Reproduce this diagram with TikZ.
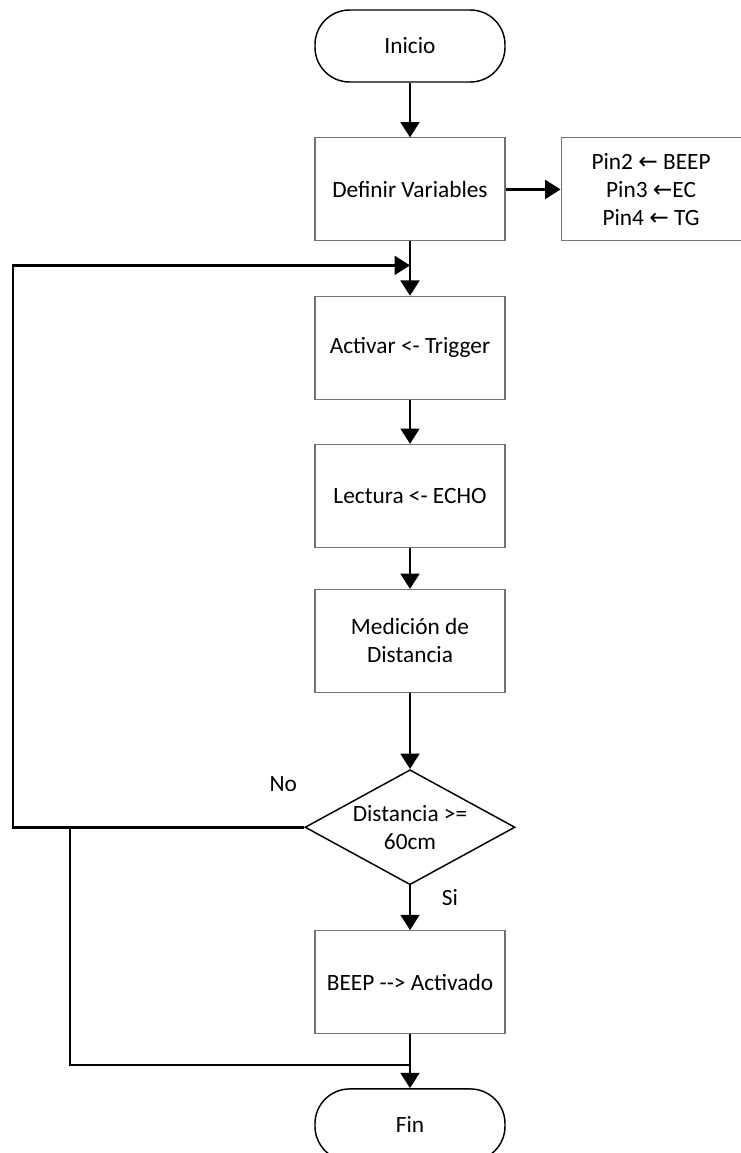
\documentclass[tikz,border=0pt]{standalone}
\usepackage{fontspec}
\setmainfont{Carlito}
\newfontfamily\arrowfont{DejaVu Sans}
\usetikzlibrary{arrows.meta,positioning,calc,shapes.geometric}
\tikzset{
	box/.style={draw=black!55, line width=0.8pt, align=center, minimum height=77.25pt, minimum width=142.5pt, font=\fontsize{17.5}{21}\selectfont},
	term/.style={draw, line width=1.1pt, rounded corners=26pt, align=center, minimum height=54pt, minimum width=142.5pt, font=\fontsize{17.5}{21}\selectfont},
	decision/.style={draw, diamond, line width=1.1pt, aspect=1.83, inner sep=-3pt, align=center, minimum width=157.5pt, minimum height=86.25pt, font=\fontsize{17.5}{21}\selectfont},
	lbl/.style={font=\fontsize{17.5}{21}\selectfont},
	flow/.style={-{Triangle[length=11.5pt,width=14pt]}, line width=2.2pt},
	line/.style={line width=2.2pt}
}
\begin{document}
\begin{tikzpicture}[x=0.75pt, y=-0.75pt, node distance=33pt and 41.25pt]
	\useasboundingbox (0,0) rectangle (741,1153);
	\node[term] (inicio) at (410,46) {Inicio};
	\node[box, below=41pt of inicio] (def) {Definir Variables};
	\node[box, right=of def, minimum width=135pt] (pins) {Pin2 {\arrowfont ←} BEEP\\Pin3 {\arrowfont ←}EC\\Pin4 {\arrowfont ←} TG};
	\node[box, below=40.75pt of def] (act) {Activar <- Trigger};
	\node[box, below=of act] (lec) {Lectura <- ECHO};
	\node[box, below=30.75pt of lec] (med) {Medición de\\Distancia};
	\node[decision, below=57pt of med] (dec) {Distancia >=\\60cm};
	\node[box, below=33.5pt of dec] (beep) {BEEP -{}-{}> Activado};
	\node[term, below=40.5pt of beep] (fin) {Fin};
	\node[lbl] (no) at ([shift={(-21,-43)}]dec.west) {No};
	\node[lbl] (si) at ([shift={(40,12)}]dec.south) {Si};
	% loop corners
	\coordinate (join) at ($(def.south)!0.44!(act.north)$);
	\coordinate (loopL) at ($(dec.center)+(-397,0)$);
	\coordinate (noL) at ($(dec.center)+(-340,0)$);
	\coordinate (merge) at ($(beep.south)!0.57!(fin.north)$);
	\draw[flow] (inicio) -- (def);
	\draw[flow] (def) -- (pins);
	\draw[flow] (def) -- (act);
	\draw[flow] (act) -- (lec);
	\draw[flow] (lec) -- (med);
	\draw[flow] (med) -- (dec);
	\draw[flow] (dec) -- (beep);
	\draw[flow] (beep) -- (fin);
	\draw[flow] (dec.west) -- (loopL) |- (join);
	\draw[line] (noL) |- (merge);
\end{tikzpicture}
\end{document}
